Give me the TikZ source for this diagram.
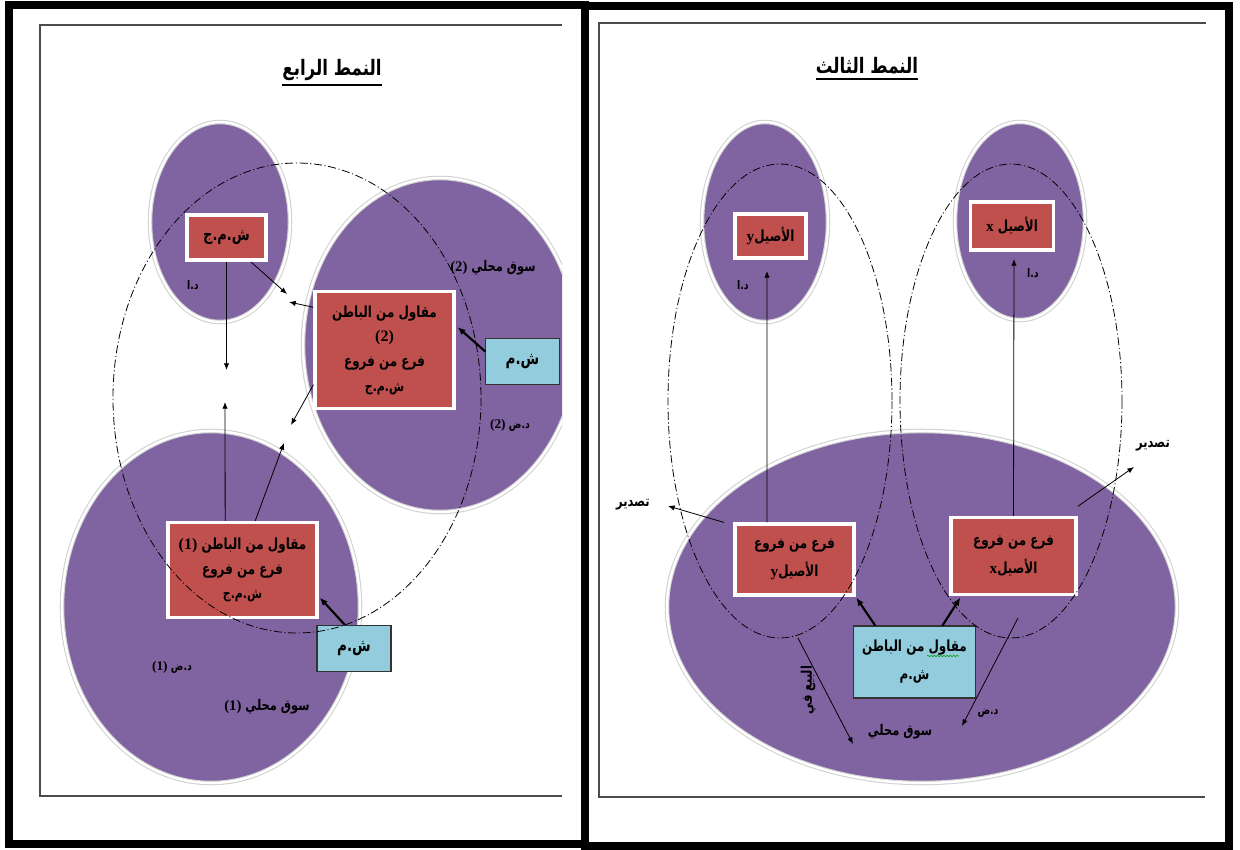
\documentclass[tikz,border=0pt]{standalone}
\usepackage{fontspec}
\usetikzlibrary{arrows.meta,decorations.pathmorphing,shadows}
\TeXXeTstate=1
\newfontfamily\arabicfont[Script=Arabic, FakeStretch=0.78]{DejaVu Sans}
\newfontfamily\latinserif{Liberation Serif}
\newcommand\arline[1]{\beginR #1\endR}
\newcommand\ltn[1]{{\latinserif\bfseries #1}}
\definecolor{mktpurple}{HTML}{8064A2}
\definecolor{branchred}{HTML}{C0504D}
\definecolor{subcyan}{HTML}{93CDDD}
\begin{document}
\begin{tikzpicture}[x=0.75pt,y=-0.75pt,
  market/.style={fill=mktpurple, draw=black!18, double=white, double distance=1.8pt, line width=0.8pt},
  redbox/.style={rectangle, fill=branchred, draw=white, line width=2.6pt,
    drop shadow={opacity=0.35, shadow xshift=1.2pt, shadow yshift=-1.2pt},
    align=center, inner sep=0pt, font=\arabicfont\bfseries\fontsize{11.5}{18.5}\selectfont},
  cyanbox/.style={rectangle, fill=subcyan, draw=black!80, line width=0.8pt,
    align=center, inner sep=0pt, font=\arabicfont\bfseries\fontsize{11.5}{21}\selectfont},
  zone/.style={draw=black, line width=0.6pt, dash pattern=on 6pt off 2pt on 0.8pt off 2pt},
  arr/.style={-{Latex[length=5pt,width=4pt]}, line width=0.6pt},
  thickarr/.style={-{Latex[length=6pt,width=5pt]}, line width=1.6pt},
  lbl/.style={font=\arabicfont\bfseries\fontsize{9}{10}\selectfont, inner sep=1pt},
  mlbl/.style={font=\arabicfont\bfseries\fontsize{11}{12}\selectfont, inner sep=1pt},
  ttl/.style={font=\arabicfont\bfseries\fontsize{16}{18}\selectfont, inner sep=0pt},
  panel/.style={draw=black, line width=6pt},
  sheet/.style={draw=black!70, line width=0.9pt},
]
\useasboundingbox (0,0) rectangle (1240,850);

% ---------- outer panels and sheets ----------
\draw[panel] (9,5) rectangle (585,844);
\draw[panel] (585,6) rectangle (1229,846);
\draw[sheet] (562,25) -- (40,25) -- (40,796) -- (562,796);
\draw[sheet] (1206,23) -- (599,23) -- (599,797) -- (1205,797);

% ================= left panel: the fourth pattern =================
\node[ttl] (t4) at (332,70) {\arline{النمط الرابع}};
\draw[line width=1.5pt] ([yshift=-3pt]t4.south west) -- ([yshift=-3pt]t4.south east);

\draw[market] (220,222) ellipse [x radius=70, y radius=100];
\begin{scope}
  \clip (40,25) rectangle (562,796);
  \draw[market] (440,345) ellipse [x radius=137, y radius=167];
\end{scope}
\draw[market] (211,607) ellipse [x radius=149, y radius=176];

\node[redbox, minimum width=59pt, minimum height=34pt, font=\arabicfont\bfseries\fontsize{12.5}{14}\selectfont] (mcg) at (226.5,237.5) {\arline{ش.م.ج}};
\node[redbox, minimum width=104pt, minimum height=88pt] (sub2) at (384.5,350)
  {\arline{مقاول من الباطن}\\ \ltn{\fontsize{12}{14}\selectfont (2)}\\ \arline{فرع من فروع}\\ {\fontsize{10.5}{10}\selectfont\arline{ش.م.ج}}};
\node[redbox, minimum width=112pt, minimum height=71pt] (sub1) at (242.5,570)
  {\ltn{\fontsize{12}{14}\selectfont (1)} \arline{مقاول من الباطن}\\ \arline{فرع من فروع}\\ {\fontsize{10.5}{10}\selectfont\arline{ش.م.ج}}};
\node[cyanbox, minimum width=55pt, minimum height=35pt, font=\arabicfont\bfseries\fontsize{13}{14}\selectfont] (sm2) at (522.5,361.5) {\arline{ش.م}};
\node[cyanbox, minimum width=55.5pt, minimum height=35pt, font=\arabicfont\bfseries\fontsize{13}{14}\selectfont] (sm1) at (354,648.5) {\arline{ش.م}};

\node[lbl] (ha) at (193,285) {\arline{د.ا}};
\node[mlbl] (m2) at (493,268) {\ltn{(2)} \arline{سوق محلي}};
\node[lbl] (h2) at (510,425) {\ltn{\fontsize{10}{10}\selectfont (2)} \arline{د.ض}};
\node[lbl] (h1) at (172,667) {\ltn{\fontsize{10}{10}\selectfont (1)} \arline{د.ض}};
\node[mlbl] (m1) at (267,707) {\ltn{(1)} \arline{سوق محلي}};

% free ends of the connectors
\coordinate (e1) at (226.5,370);
\coordinate (e2) at (287,294);
\coordinate (e3) at (289,302);
\coordinate (e4) at (291,425);
\coordinate (e5) at (225,402);
\coordinate (e6) at (284,443);
\coordinate (s5) at ([xshift=-13pt]sub1.north);
\coordinate (s6) at ([xshift=9.5pt]sub1.north);

\draw[arr] (mcg.south) -- (e1);
\draw[arr] (mcg.-45) -- (e2);
\draw[arr] (sub2.149) -- (e3);
\draw[arr] (sub2.206) -- (e4);
\draw[arr] (s5) -- (e5);
\draw[arr] (s6) -- (e6);
\draw[thickarr, shorten >=2pt] (sm2.165) -- ([yshift=18.5pt]sub2.east);
\draw[thickarr, shorten >=1pt] ([xshift=-7pt]sm1.north) -- ([yshift=-20pt]sub1.east);

\draw[zone] (297,398) ellipse [x radius=184, y radius=235];

% ================= right panel: the third pattern =================
\node[ttl] (t3) at (867,66) {\arline{النمط الثالث}};
\draw[line width=1.5pt] ([yshift=-3pt]t3.south west) -- ([yshift=-3pt]t3.south east);

\draw[market] (765,222) ellipse [x radius=63, y radius=100];
\draw[market] (1020,221) ellipse [x radius=65, y radius=99];
\draw[market] (922,607) ellipse [x radius=255, y radius=176];

\node[redbox, minimum width=53pt, minimum height=33pt] (asly) at (770.5,236)
  {\ltn{y}\arline{الأصيل}};
\node[redbox, minimum width=62pt, minimum height=36pt] (aslx) at (1012,226)
  {\ltn{x} \arline{الأصيل}};
\node[redbox, minimum width=89pt, minimum height=53pt, font=\arabicfont\bfseries\fontsize{11.5}{21}\selectfont] (bry) at (794.5,559.5)
  {\arline{فرع من فروع}\\ \ltn{y}\arline{الأصيل}};
\node[redbox, minimum width=94pt, minimum height=58pt, font=\arabicfont\bfseries\fontsize{11.5}{21}\selectfont] (brx) at (1013.5,556)
  {\arline{فرع من فروع}\\ \ltn{x}\arline{الأصيل}};
\node[cyanbox, minimum width=91pt, minimum height=54pt] (smr) at (914.5,662)
  {\arline{مقاول من الباطن}\\ \arline{ش.م}};
\draw[green!60!black, line width=0.4pt, decorate,
  decoration={snake, amplitude=0.6pt, segment length=2.4pt}] (927,656) -- (959,656);

\node[lbl] (hy) at (743,285) {\arline{د.ا}};
\node[lbl] (hx) at (1033,273) {\arline{د.ا}};
\node[mlbl] (ex1) at (633,505) {\arline{تصدير}};
\node[mlbl] (ex2) at (1153,446) {\arline{تصدير}};
\node[mlbl, rotate=90] (sale) at (808,690) {\arline{البيع في}};
\node[lbl] (hr) at (988,713) {\arline{د.ض}};
\node[mlbl] (mr) at (900,732) {\arline{سوق محلي}};

\coordinate (f1) at (767,271);
\coordinate (f2) at (1014,259);
\coordinate (f3) at (668,506);
\coordinate (f4) at (1134,467);
\coordinate (f5a) at (798,638);
\coordinate (f5b) at (853,744);
\coordinate (f6a) at (1018,618);
\coordinate (f6b) at (962,726);
\coordinate (r1) at ([xshift=-20.6pt]bry.north);
\coordinate (r3) at ([xshift=-7pt]bry.north west);
\coordinate (r4) at ([yshift=7pt]brx.north east);

\draw[arr] (r1) -- (f1);
\draw[arr] (brx.north) -- (f2);
\draw[arr] (r3) -- (f3);
\draw[arr] (r4) -- (f4);
\draw[arr] (f5a) -- (f5b);
\draw[arr] (f6a) -- (f6b);
\draw[thickarr, shorten >=1pt] ([xshift=-29.5pt]smr.north) -- (bry.south east);
\draw[thickarr, shorten >=1pt] ([xshift=21pt]smr.north) -- ([xshift=9pt]brx.south west);

\draw[zone] (780,401) ellipse [x radius=112, y radius=237];
\draw[zone] (1011,401) ellipse [x radius=111, y radius=237];
\end{tikzpicture}
\end{document}
